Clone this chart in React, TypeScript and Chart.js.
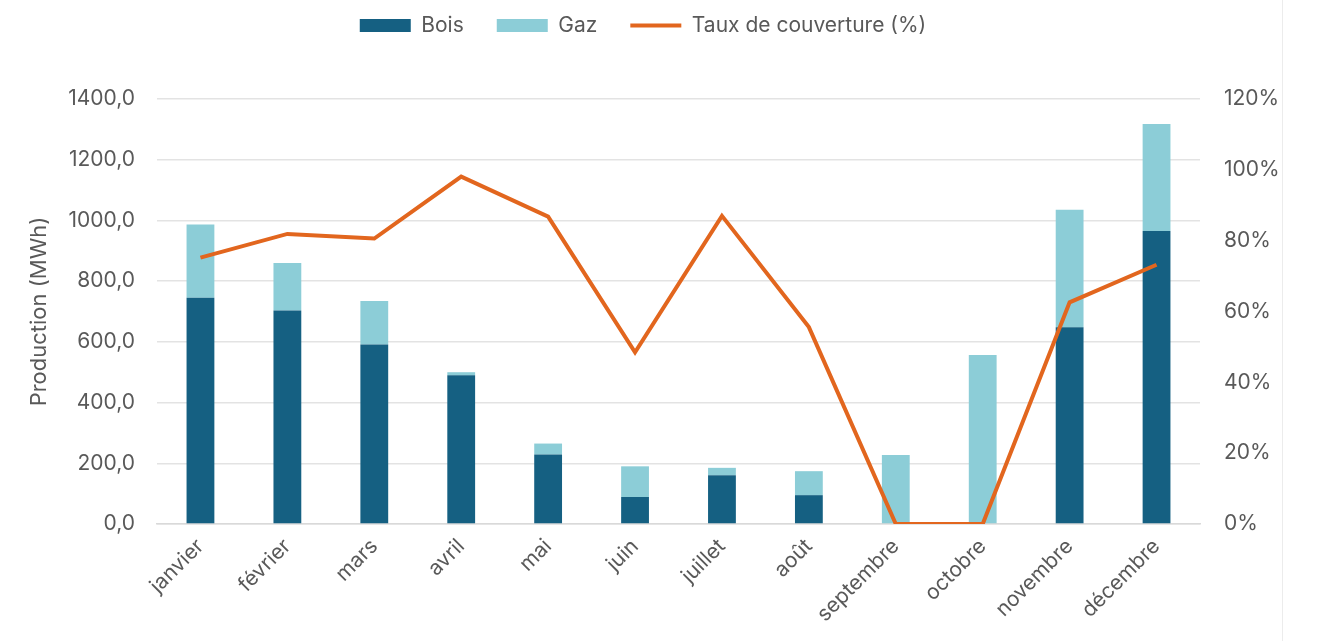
import React, { useEffect, useRef } from "react";
import { Chart, registerables } from "chart.js";

Chart.register(...registerables);

const months = ["janvier", "février", "mars", "avril", "mai", "juin", "juillet", "août", "septembre", "octobre", "novembre", "décembre"];
const bois = [745, 703, 591, 490, 229, 89, 161, 95, 0, 0, 648, 965];
const gaz = [242, 157, 144, 10, 36, 101, 24, 79, 227, 557, 387, 353];
const taux = [75.2, 81.9, 80.6, 98.1, 86.8, 48.5, 87.0, 55.6, 0, 0, 62.6, 73.2];

const FONT = "Inter, 'Noto Sans', sans-serif";
const TEXT = "#595959";
const FS = 21;

const legendShift = {
  id: "legendShift",
  afterLayout(chart: any) {
    const l = chart.legend;
    if (!l) return;
    const dy = l.top + 33 + 12.6 - 3.5 - 24;
    l.top -= dy;
    l.bottom -= dy;
    l.left -= 17;
    l.right -= 17;
  },
};

export default function App() {
  const ref = useRef<HTMLCanvasElement | null>(null);
  useEffect(() => {
    if (!ref.current) return;
    const chart = new Chart(ref.current, {
      type: "bar",
      data: {
        labels: months,
        datasets: [
          {
            type: "bar",
            label: "Bois",
            data: bois,
            backgroundColor: "#156082",
            stack: "s",
            yAxisID: "y",
            order: 1,
            barPercentage: 0.32,
            categoryPercentage: 1,
            pointStyle: "rect",
          } as any,
          {
            type: "bar",
            label: "Gaz",
            data: gaz,
            backgroundColor: "#8ccdd7",
            stack: "s",
            yAxisID: "y",
            order: 1,
            barPercentage: 0.32,
            categoryPercentage: 1,
            pointStyle: "rect",
          } as any,
          {
            type: "line",
            label: "Taux de couverture (%)",
            data: taux,
            borderColor: "#e2661e",
            backgroundColor: "#e2661e",
            borderWidth: 4,
            pointRadius: 0,
            pointStyle: "line",
            yAxisID: "y1",
            order: 0,
            tension: 0,
          } as any,
        ],
      },
      options: {
        animation: false,
        responsive: false,
        maintainAspectRatio: false,
        layout: { padding: { top: 35, left: 0, right: 0, bottom: 0 } },
        plugins: {
          tooltip: { enabled: false },
          legend: {
            position: "top",
            labels: {
              usePointStyle: true,
              pointStyleWidth: 51,
              boxHeight: 13,
              padding: 33,
              color: TEXT,
              font: { family: FONT, size: FS },
              sort: (a: any, b: any) => a.datasetIndex - b.datasetIndex,
            },
          },
        },
        scales: {
          x: {
            stacked: true,
            grid: { display: false, drawTicks: false },
            border: { display: true, color: "#d9d9d9", width: 1.5 },
            ticks: {
              color: TEXT,
              font: { family: FONT, size: FS },
              maxRotation: 45,
              minRotation: 45,
              padding: 10,
              autoSkip: false,
            },
            afterFit: (s: any) => {
              s.height = 117;
            },
          },
          y: {
            stacked: true,
            min: 0,
            max: 1400,
            position: "left",
            grid: { color: "#e3e3e3", lineWidth: 1.5, drawTicks: false },
            border: { display: false },
            ticks: {
              stepSize: 200,
              color: TEXT,
              font: { family: FONT, size: FS },
              padding: 22,
              callback: (v: any) => Number(v).toFixed(1).replace(".", ","),
            },
            title: {
              display: true,
              text: "Production (MWh)",
              color: TEXT,
              font: { family: FONT, size: 22 },
              padding: { top: 26, bottom: 0 },
            },
            afterFit: (s: any) => {
              s.width = 157;
            },
          },
          y1: {
            min: 0,
            max: 120,
            position: "right",
            grid: { display: false, drawOnChartArea: false, drawTicks: false },
            border: { display: false },
            ticks: {
              stepSize: 20,
              color: TEXT,
              font: { family: FONT, size: FS },
              padding: 24,
              callback: (v: any) => v + "%",
            },
            afterFit: (s: any) => {
              s.width = 120;
            },
          },
        },
      },
      plugins: [legendShift],
    });
    return () => chart.destroy();
  }, []);
  return (
    <div style={{ position: "fixed", left: 0, top: 0, width: 1320, height: 641, background: "#fff" }}>
      <canvas ref={ref} width={1320} height={641} style={{ width: 1320, height: 641, display: "block" }} />
      <div style={{ position: "absolute", left: 1282, top: 0, width: 1, height: 641, background: "#ececec" }} />
    </div>
  );
}
